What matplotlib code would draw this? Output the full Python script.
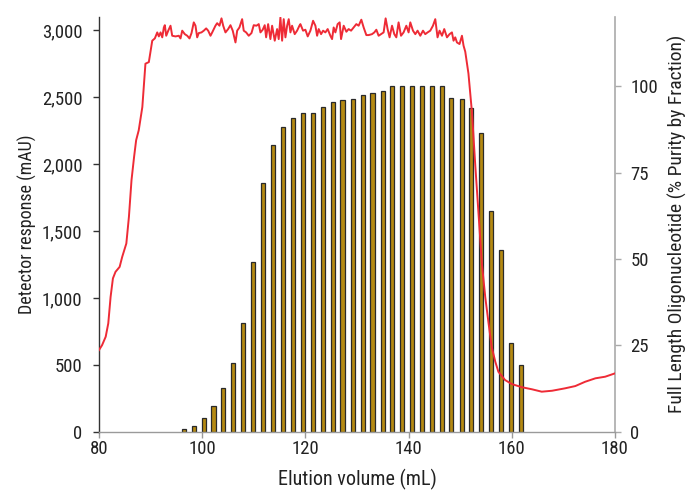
import matplotlib
matplotlib.use("Agg")
import matplotlib.pyplot as plt
from matplotlib.ticker import FuncFormatter

plt.rcParams['font.family'] = ['Roboto Condensed', 'Liberation Sans Narrow', 'Roboto', 'DejaVu Sans']

# Fraction purity bars (right axis, %)
fraction_volume = [96.4, 98.4, 100.3, 102.2, 104.1, 106.0, 107.9, 109.9, 111.8, 113.7,
                   115.7, 117.6, 119.5, 121.4, 123.4, 125.3, 127.2, 129.2, 131.1, 133.0,
                   135.0, 136.8, 138.7, 140.7, 142.6, 144.5, 146.5, 148.3, 150.3, 152.1,
                   154.1, 156.0, 157.9, 159.8, 161.8]
fraction_purity = [0.7, 1.5, 3.9, 7.5, 12.6, 19.9, 31.5, 49.2, 72.1, 82.9,
                   88.1, 90.7, 92.1, 92.3, 94.0, 95.4, 96.0, 96.2, 97.5, 97.9,
                   98.5, 100.0, 100.0, 100.0, 100.0, 100.0, 100.0, 96.7, 96.2, 93.8,
                   86.5, 63.8, 52.6, 25.7, 19.2]

# Detector trace (left axis, mAU)
trace_volume = [80.0, 80.6, 81.3, 81.8, 82.25, 82.7, 83.2, 84.0, 84.5, 85.3,
                85.8, 86.3, 86.8, 87.2, 87.7, 88.4, 89.0, 89.66,
                89.99, 90.32, 90.82, 91.29, 91.6, 91.93, 92.26, 92.57, 92.76, 93.03,
                93.42, 93.86, 94.19, 94.83, 95.47, 95.8, 96.13, 96.63, 97.1, 97.54,
                97.93, 98.37, 98.7, 99.03, 99.34, 99.86, 100.31, 100.77, 101.16, 101.61,
                101.94, 102.57, 102.9, 103.35, 103.74, 104.07, 104.51, 105.03, 105.48, 105.92,
                106.45, 106.78, 107.22, 107.74, 108.05, 108.52, 109.02, 109.55, 109.99, 110.51,
                110.96, 111.29, 111.73, 112.12, 112.39, 112.78, 113.22, 113.55, 114.06, 114.52,
                114.83, 115.16, 115.49, 115.8, 116.13, 116.46, 116.77, 117.1, 117.42, 117.93,
                118.39, 118.84, 119.03, 119.55, 120.0, 120.45, 120.97, 121.49, 121.94, 122.27,
                122.58, 123.04, 123.43, 123.87, 124.32, 124.84, 125.17, 125.48, 125.81, 126.25,
                126.64, 126.91, 127.42, 127.94, 128.38, 128.85, 129.35, 129.87, 130.32, 130.84,
                131.29, 131.81, 132.26, 132.91, 133.36, 133.75, 134.19, 134.66, 135.16, 135.55,
                135.93, 136.32, 136.79, 137.23, 137.62, 138.06, 138.53, 139.03, 139.56, 140.0,
                140.33, 140.85, 141.3, 141.74, 142.27, 142.79, 143.23, 143.68, 144.2, 144.72,
                145.17, 145.61, 146.0, 146.47, 146.91, 147.44, 147.94, 148.4, 148.71, 149.04,
                149.37, 149.87, 150.34, 150.65, 150.98,
                151.6, 152.3, 152.9, 153.6, 154.2, 154.85, 155.5, 156.1, 156.8, 157.4,
                158.7, 160.0, 162.0, 163.9, 165.8, 167.8, 170.3, 172.3, 174.2, 176.2,
                178.1, 180.0]
trace_mau = [610, 647, 710, 810, 1008, 1146, 1195, 1232, 1307, 1407,
             1606, 1880, 2054, 2179, 2253, 2427, 2751, 2763,
             2841, 2923, 2940, 2985, 2955, 2985, 2948, 3022, 3039, 2960,
             2998, 3035, 2960, 2955, 2960, 2940, 2998, 2972, 2960, 2940,
             2980, 3060, 3035, 2948, 2980, 2985, 2998, 3015, 2998, 2960,
             2985, 3035, 3054, 3035, 3090, 3035, 2985, 3010, 3039, 2998,
             2910, 2998, 3022, 3084, 2998, 2985, 2960, 2980, 3039, 3035,
             3047, 2985, 3005, 3039, 2948, 3047, 2935, 3035, 2923, 3010,
             2935, 3097, 2923, 3084, 2948, 3035, 3084, 2985, 3035, 2972,
             2998, 3035, 3047, 2998, 3005, 2955, 2998, 3072, 3035, 2960,
             3010, 2972, 2998, 2985, 3010, 2960, 2935, 3022, 2985, 3047,
             3060, 2935, 3035, 2990, 3010, 2998, 3022, 3047, 3035, 3080,
             3022, 2965, 2965, 2972, 2985, 3005, 2960, 2972, 2985, 3090,
             3010, 2948, 3035, 2972, 2948, 3060, 2960, 2985, 3035, 2985,
             3060, 2998, 2972, 2998, 2960, 2998, 2972, 2985, 2998, 3035,
             3084, 2948, 2998, 2960, 3010, 2948, 2972, 2985, 2923, 2948,
             2910, 2898, 2960, 2886, 2841,
             2677, 2378, 2004, 1606, 1258, 1008, 810, 635, 523, 448,
             386, 356, 332, 317, 299, 306, 324, 341, 373, 399,
             411, 436]

x_ticks = [80, 100, 120, 140, 160, 180]
left_ticks = [0, 500, 1000, 1500, 2000, 2500, 3000]
right_ticks = [0, 25, 50, 75, 100]

fig = plt.figure(figsize=(6.86, 4.92), dpi=100)
ax = fig.add_axes([0.1443, 0.1226, 0.7522, 0.8428])
ax2 = ax.twinx()

ax2.bar(fraction_volume, fraction_purity, width=0.8, color='#B58A12',
        edgecolor='#2a2a2a', linewidth=0.9, zorder=2)
ax.plot(trace_volume, trace_mau, color='#EE2B36', linewidth=1.4, zorder=3)

ax.set_zorder(ax2.get_zorder() + 1)
ax.patch.set_visible(False)

ax.set_xlim(80, 180)
ax.set_ylim(0, 3100)
ax2.set_ylim(0, 120)
ax.set_xticks(x_ticks)
ax.set_yticks(left_ticks)
ax2.set_yticks(right_ticks)
ax.yaxis.set_major_formatter(FuncFormatter(lambda v, p: f"{int(v):,}"))

fs = 13.5
for a in (ax, ax2):
    a.spines['top'].set_visible(False)
ax.spines['right'].set_visible(False)
ax2.spines['left'].set_visible(False)
ax2.spines['bottom'].set_visible(False)
ax.spines['left'].set_color('#333333')
ax.spines['bottom'].set_color('#9a9a9a')
ax2.spines['right'].set_color('#aaaaaa')
for s in ('left', 'bottom'):
    ax.spines[s].set_linewidth(1.0)
ax2.spines['right'].set_linewidth(1.2)

ax.tick_params(axis='y', direction='out', length=4, width=1, color='#333333',
               labelsize=fs, pad=8, labelcolor='#222222')
ax.tick_params(axis='x', direction='out', length=4, width=1, color='#9a9a9a',
               labelsize=fs, pad=2, labelcolor='#222222')
ax2.tick_params(axis='y', direction='out', length=4, width=1, color='#aaaaaa',
                labelsize=fs, pad=7, labelcolor='#222222')

ax.set_xlabel('Elution volume (mL)', fontsize=14.5, color='#222222', labelpad=8)
ax.set_ylabel('Detector response (mAU)', fontsize=13, color='#222222', labelpad=3.5)
ax2.set_ylabel('Full Length Oligonucleotide (% Purity by Fraction)', fontsize=14,
               color='#222222', labelpad=7)

fig.savefig('out.png', dpi=100)
